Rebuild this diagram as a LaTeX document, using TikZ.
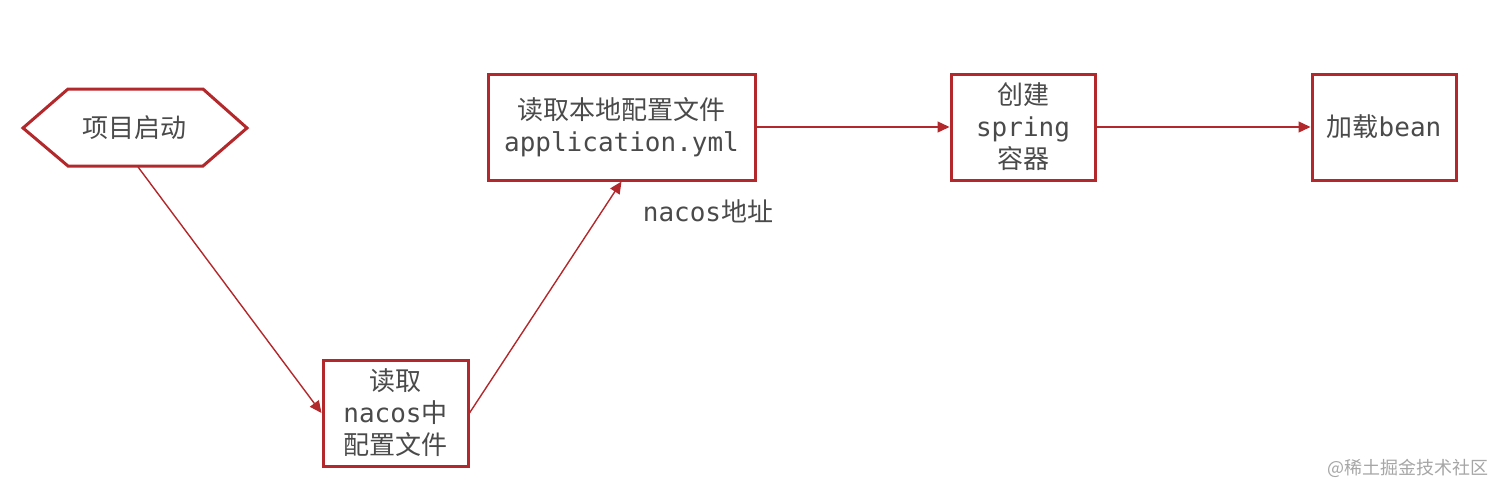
\documentclass[tikz,border=0pt]{standalone}
\usepackage{fontspec}
\setmainfont{Noto Sans CJK SC}
\setmonofont{DejaVu Sans Mono}
\usepackage{xcolor}
\usepackage{tikz}
\usetikzlibrary{arrows.meta, positioning, calc}

\definecolor{boxred}{HTML}{B3282B}
\definecolor{txtgray}{HTML}{4A4A4A}

\begin{document}
\begin{tikzpicture}[x=0.5pt,y=-0.5pt,
    font=\fontsize{13}{16}\selectfont, text=txtgray,
    stepbox/.style={draw=boxred,line width=1.5pt,align=center,inner sep=0pt,minimum height=53pt},
    flow/.style={draw=boxred,line width=0.7pt,-{Triangle[length=6pt,width=5.5pt]}}]
    \useasboundingbox (0,0) rectangle (1512,499);

    % avvio: esagono
    \node[minimum height=38.5pt,inner sep=0pt] (start) at (135,128) {项目启动};
    \draw[boxred,line width=1.5pt,line join=miter]
        (23,128) -- (68,89) -- (203,89) -- (247,128) -- (203,166) -- (68,166) -- cycle;

    % passi
    \node[stepbox,minimum width=72.5pt] (readnacos) at (395.5,413)
        {读取\\\texttt{nacos}中\\配置文件};
    \node[stepbox,minimum width=133.5pt] (readlocal) at (621.5,127)
        {读取本地配置文件\\\texttt{application.yml}};
    \node[stepbox,minimum width=72pt] (spring) at (1023,127)
        {创建\\\texttt{spring}\\容器};
    \node[stepbox,minimum width=72pt] (bean) at (1384,127)
        {加载\texttt{bean}};

    % frecce
    \draw[flow] (start.south) ++(3,0) coordinate (startout) -- (readnacos.west);
    \draw[flow] (readnacos.east) -- (readlocal.south);
    \node (addr) at (708,211) {\texttt{nacos}地址};
    \draw[flow] (readlocal.east) -- (spring.west);
    \draw[flow] (spring.east) -- (bean.west);

    % watermark
    \node[anchor=east,text=black!35,font=\fontsize{9}{10}\selectfont] (mark) at (1496,468) {@稀土掘金技术社区};
\end{tikzpicture}
\end{document}
